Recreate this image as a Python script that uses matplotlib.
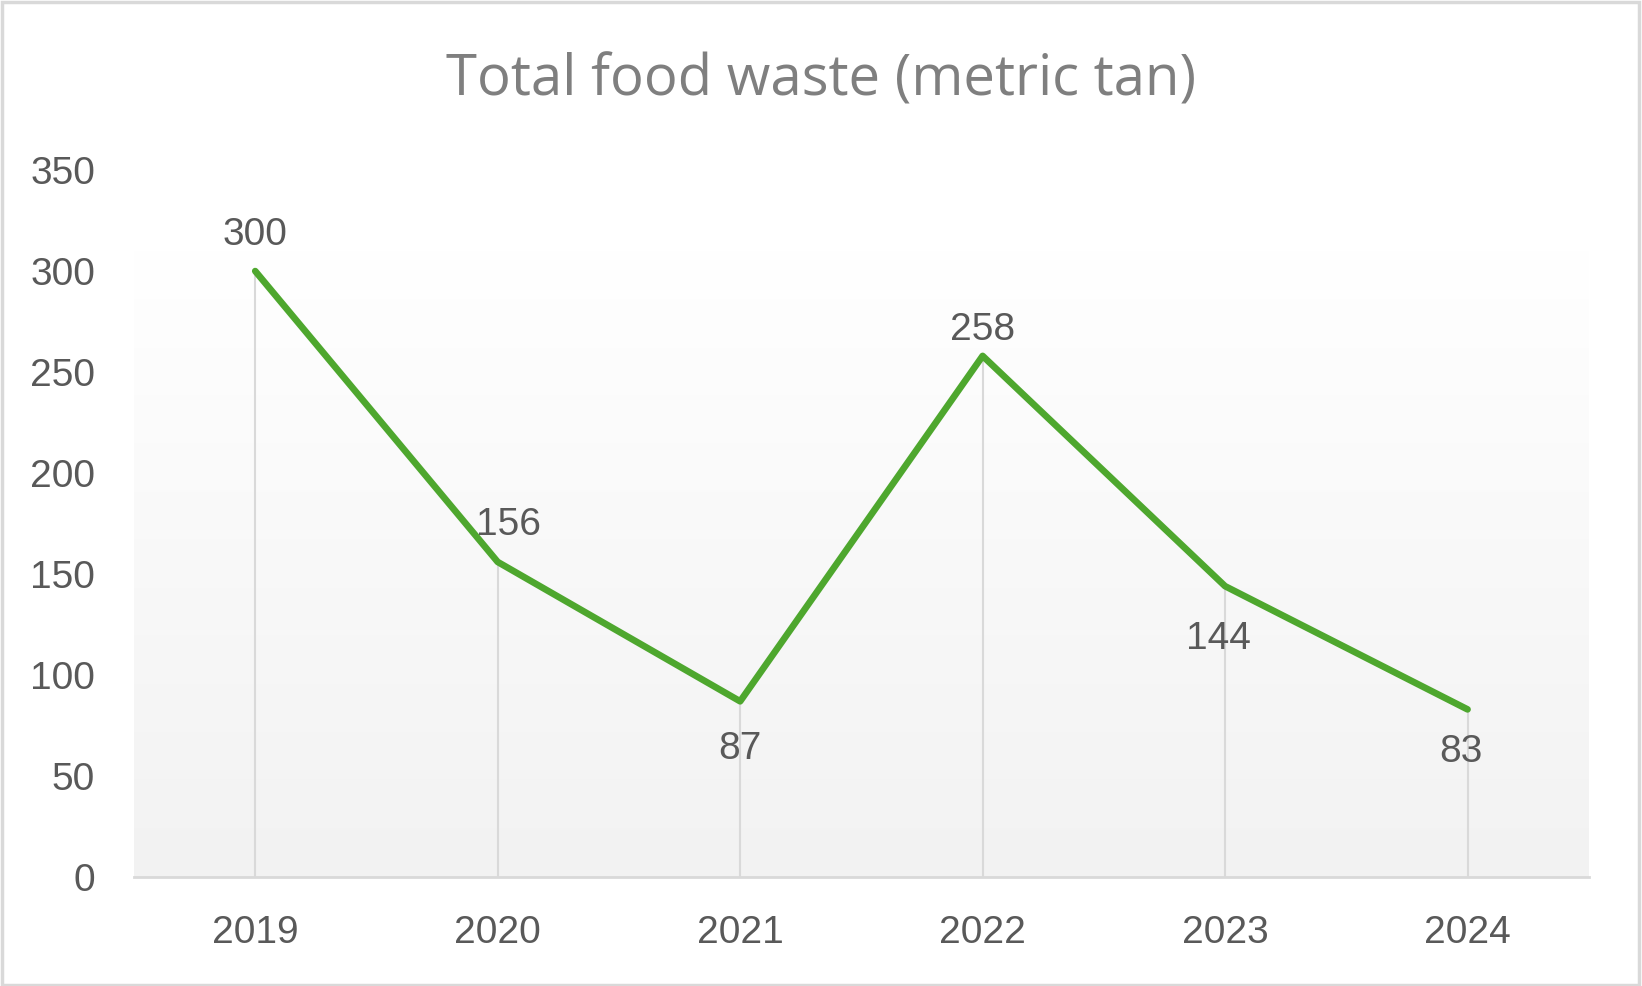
import matplotlib.pyplot as plt
import numpy as np
from matplotlib.colors import LinearSegmentedColormap
from matplotlib.patches import Rectangle

years = ['2019', '2020', '2021', '2022', '2023', '2024']
waste = [300, 156, 87, 258, 144, 83]
# where each data label sits relative to its point (points)
label_offsets = [(0, 26), (8, 26.5), (0, -34), (0, 19), (-5, -38), (-4.5, -31)]

green = '#4ea72e'
textgrey = '#595959'
gridgrey = '#d9d9d9'

fig = plt.figure(figsize=(16.42, 9.86), dpi=100)
ax = fig.add_axes([0.0816, 0.1105, 0.886, 0.717])

x = np.arange(len(years))

# soft background fade (white at the top -> light grey at the axis)
cmap = LinearSegmentedColormap.from_list('fade', ['#f2f2f2', '#ffffff'])
grad = np.linspace(0, 1, 256).reshape(-1, 1)
ax.imshow(grad, aspect='auto', cmap=cmap, origin='lower',
          extent=[-0.5, len(years) - 0.5, 0, 310], zorder=0)

# drop lines from each point down to the axis
ax.vlines(x, 0, waste, color=gridgrey, linewidth=1.5, zorder=1)

ax.plot(x, waste, color=green, linewidth=4.8, solid_capstyle='round',
        solid_joinstyle='round', zorder=3)

for xi, v, off in zip(x, waste, label_offsets):
    ax.annotate(str(v), (xi, v), xytext=off, textcoords='offset points',
                ha='center', va='center', fontsize=28, color=textgrey,
                family='Liberation Sans', zorder=4)

ax.set_xlim(-0.5, len(years) - 0.5)
ax.set_ylim(0, 350)
ax.set_yticks(np.arange(0, 351, 50))
ax.set_xticks(x)
ax.set_xticklabels(years)

for s in ['top', 'right', 'left']:
    ax.spines[s].set_visible(False)
ax.spines['bottom'].set_color(gridgrey)
ax.spines['bottom'].set_linewidth(2)
ax.tick_params(axis='both', length=0, labelsize=28, labelcolor=textgrey)
ax.tick_params(axis='y', pad=28)
ax.tick_params(axis='x', pad=27)
for lab in ax.get_xticklabels() + ax.get_yticklabels():
    lab.set_family('Liberation Sans')

fig.text(0.5, 0.918, 'Total food waste (metric tan)', ha='center', va='center',
         fontsize=40.5, color='#7f7f7f', family='Open Sans')

# chart border
fig.patches.append(Rectangle((0.001, 0.001), 0.997, 0.997, transform=fig.transFigure,
                             fill=False, edgecolor=gridgrey, linewidth=2.5))

plt.savefig('out.png', dpi=100)
plt.close()
